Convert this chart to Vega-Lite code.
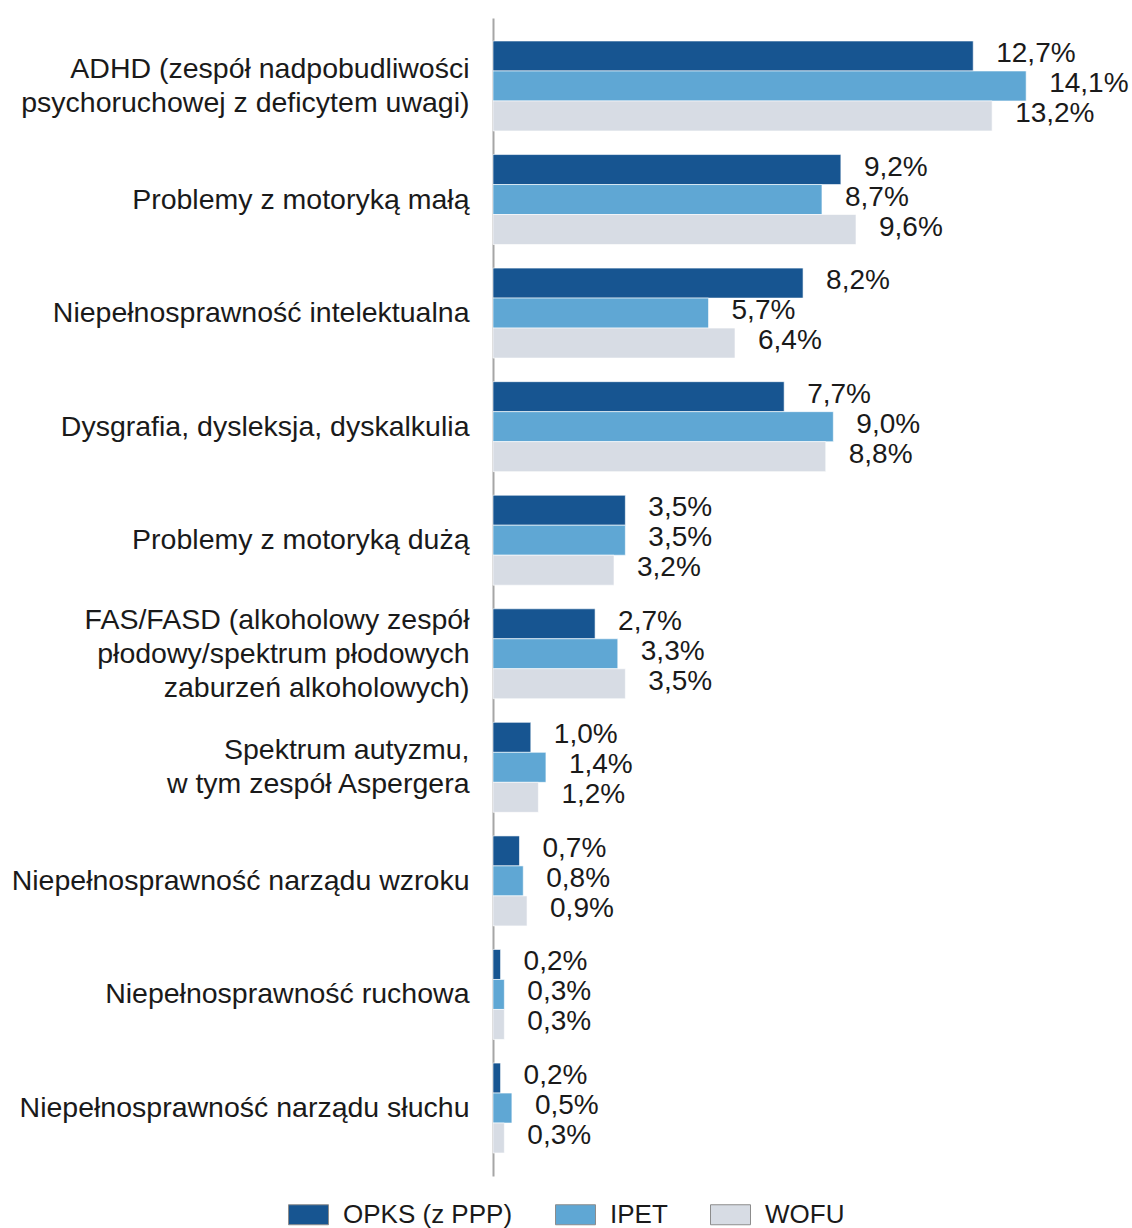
{
  "$schema": "https://vega.github.io/schema/vega-lite/v6.json",
  "width": 605,
  "height": 1158,
  "autosize": "none",
  "padding": {"left": 493, "top": 18, "right": 34, "bottom": 52},
  "config": {
    "view": {"stroke": null},
    "font": "Liberation Sans",
    "background": "#ffffff"
  },
  "data": {
    "values": [
      {"cat": "ADHD (zespół nadpobudliwości|psychoruchowej z deficytem uwagi)", "series": "OPKS (z PPP)", "value": 12.7},
      {"cat": "ADHD (zespół nadpobudliwości|psychoruchowej z deficytem uwagi)", "series": "IPET", "value": 14.1},
      {"cat": "ADHD (zespół nadpobudliwości|psychoruchowej z deficytem uwagi)", "series": "WOFU", "value": 13.2},
      {"cat": "Problemy z motoryką małą", "series": "OPKS (z PPP)", "value": 9.2},
      {"cat": "Problemy z motoryką małą", "series": "IPET", "value": 8.7},
      {"cat": "Problemy z motoryką małą", "series": "WOFU", "value": 9.6},
      {"cat": "Niepełnosprawność intelektualna", "series": "OPKS (z PPP)", "value": 8.2},
      {"cat": "Niepełnosprawność intelektualna", "series": "IPET", "value": 5.7},
      {"cat": "Niepełnosprawność intelektualna", "series": "WOFU", "value": 6.4},
      {"cat": "Dysgrafia, dysleksja, dyskalkulia", "series": "OPKS (z PPP)", "value": 7.7},
      {"cat": "Dysgrafia, dysleksja, dyskalkulia", "series": "IPET", "value": 9.0},
      {"cat": "Dysgrafia, dysleksja, dyskalkulia", "series": "WOFU", "value": 8.8},
      {"cat": "Problemy z motoryką dużą", "series": "OPKS (z PPP)", "value": 3.5},
      {"cat": "Problemy z motoryką dużą", "series": "IPET", "value": 3.5},
      {"cat": "Problemy z motoryką dużą", "series": "WOFU", "value": 3.2},
      {"cat": "FAS/FASD (alkoholowy zespół|płodowy/spektrum płodowych|zaburzeń alkoholowych)", "series": "OPKS (z PPP)", "value": 2.7},
      {"cat": "FAS/FASD (alkoholowy zespół|płodowy/spektrum płodowych|zaburzeń alkoholowych)", "series": "IPET", "value": 3.3},
      {"cat": "FAS/FASD (alkoholowy zespół|płodowy/spektrum płodowych|zaburzeń alkoholowych)", "series": "WOFU", "value": 3.5},
      {"cat": "Spektrum autyzmu,|w tym zespół Aspergera", "series": "OPKS (z PPP)", "value": 1.0},
      {"cat": "Spektrum autyzmu,|w tym zespół Aspergera", "series": "IPET", "value": 1.4},
      {"cat": "Spektrum autyzmu,|w tym zespół Aspergera", "series": "WOFU", "value": 1.2},
      {"cat": "Niepełnosprawność narządu wzroku", "series": "OPKS (z PPP)", "value": 0.7},
      {"cat": "Niepełnosprawność narządu wzroku", "series": "IPET", "value": 0.8},
      {"cat": "Niepełnosprawność narządu wzroku", "series": "WOFU", "value": 0.9},
      {"cat": "Niepełnosprawność ruchowa", "series": "OPKS (z PPP)", "value": 0.2},
      {"cat": "Niepełnosprawność ruchowa", "series": "IPET", "value": 0.3},
      {"cat": "Niepełnosprawność ruchowa", "series": "WOFU", "value": 0.3},
      {"cat": "Niepełnosprawność narządu słuchu", "series": "OPKS (z PPP)", "value": 0.2},
      {"cat": "Niepełnosprawność narządu słuchu", "series": "IPET", "value": 0.5},
      {"cat": "Niepełnosprawność narządu słuchu", "series": "WOFU", "value": 0.3}
    ]
  },
  "transform": [
    {"calculate": "replace(format(datum.value, '.1f'), '.', ',') + '%'", "as": "label"}
  ],
  "encoding": {
    "y": {
      "field": "cat", "type": "nominal", "sort": null, "title": null,
      "scale": {"paddingInner": 0.208, "paddingOuter": 0.2025},
      "axis": {
        "labelExpr": "split(datum.label, '|')",
        "labelFontSize": 28.5,
        "labelLineHeight": 34,
        "labelColor": "#1a1a1a",
        "labelPadding": 24,
        "labelLimit": 700,
        "labelOffset": {
          "condition": [
            {"test": "indexof(datum.label, 'FAS/FASD') >= 0", "value": -34},
            {"test": "indexof(datum.label, '|') >= 0", "value": -17}
          ],
          "value": 0
        },
        "ticks": false,
        "domainColor": "#a6a6a6",
        "domainWidth": 2,
        "labelFont": "Liberation Sans"
      }
    },
    "yOffset": {
      "field": "series", "type": "nominal", "sort": ["OPKS (z PPP)", "IPET", "WOFU"],
      "scale": {"paddingInner": 0, "paddingOuter": 0}
    },
    "x": {
      "field": "value", "type": "quantitative",
      "scale": {"domain": [0, 16], "nice": false},
      "axis": null
    }
  },
  "layer": [
    {
      "mark": {"type": "bar", "stroke": "#ffffff", "strokeWidth": 1, "strokeOpacity": 0.6},
      "encoding": {
        "color": {
          "field": "series", "type": "nominal",
          "sort": ["OPKS (z PPP)", "IPET", "WOFU"],
          "scale": {"domain": ["OPKS (z PPP)", "IPET", "WOFU"], "range": ["#175591", "#5fa7d4", "#d7dce4"]},
          "legend": {
            "title": null,
            "orient": "none",
            "direction": "horizontal",
            "legendX": -205,
            "legendY": 1176,
            "symbolType": "M-1,-0.5H1V0.5H-1Z",
            "symbolSize": 1600,
            "symbolStrokeColor": "#8c8c8c",
            "symbolStrokeWidth": 1,
            "symbolOpacity": 1,
            "labelFontSize": 26,
            "labelColor": "#1a1a1a",
            "labelOffset": 14,
            "labelLimit": 400,
            "columnPadding": 40,
            "labelFont": "Liberation Sans"
          }
        }
      }
    },
    {
      "mark": {"type": "text", "align": "left", "baseline": "middle", "dx": 23, "dy": -2, "fontSize": 28, "color": "#1a1a1a"},
      "encoding": {"text": {"field": "label"}}
    }
  ]
}
